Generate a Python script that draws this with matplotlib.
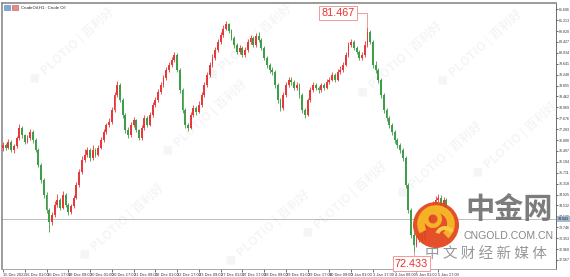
import numpy as np
import matplotlib

matplotlib.use("Agg")
import matplotlib.pyplot as plt
import matplotlib.transforms as mtransforms
from matplotlib.patches import Circle, Arc, Rectangle, Wedge

CJK = ["Noto Sans CJK SC", "DejaVu Sans"]

# --- data (CrudeOil, H1) ---
first_open = 76.60
closes = [
    76.71, 76.60, 76.82, 76.53, 76.67, 76.96, 77.32, 77.07, 76.82, 76.96, 77.18, 76.89,
    76.53, 75.99, 75.45, 74.91, 74.37, 73.93, 74.19, 74.55,
    74.73, 74.44, 74.91, 74.55, 74.30, 74.51, 74.80,
    75.27, 75.74, 76.17, 76.35, 76.53, 76.24, 76.53, 76.35, 76.60,
    76.89, 77.18, 77.43, 77.54, 77.97, 78.51, 78.87, 78.33, 77.79,
    77.25, 77.07, 77.43, 77.61, 77.25, 76.96, 77.32, 77.69, 77.43,
    77.79, 78.15, 78.33, 78.62, 78.87, 79.13, 79.42, 79.60,
    79.78, 79.96, 79.42, 78.69, 77.97, 77.43,
    77.32, 77.79, 78.05, 77.90, 78.15,
    78.51, 78.87, 79.24, 79.60, 79.85, 80.14, 80.43,
    80.68, 80.90, 81.06, 80.82, 80.57,
    80.32, 80.06, 80.21, 79.96, 80.14, 80.43, 80.57, 80.32,
    80.64, 80.50, 80.21, 79.85, 79.60, 79.42, 79.34,
    78.87, 78.33, 78.05, 78.51, 78.87,
    79.06, 78.98, 78.77, 78.87, 78.51,
    77.97, 77.79, 78.33, 78.69, 78.87,
    78.77, 78.69, 78.87, 78.77, 78.98,
    79.06, 79.24, 79.06, 79.34, 79.42, 79.60, 79.96,
    80.32, 80.43, 80.21, 80.06, 79.85,
    79.96, 80.32, 80.79, 80.43, 79.60,
    79.42, 79.06, 78.51, 77.97, 77.69,
    77.43, 77.18, 76.89, 76.71, 76.53, 76.24,
    75.27, 74.37, 73.47, 73.11, 73.29,
    73.47, 73.29, 73.65, 73.93, 74.30,
    74.55, 74.73, 74.80, 74.55, 74.73, 74.37, 74.04,
]
highs = [
    76.82, 76.80, 76.93, 76.88, 76.76, 77.05, 77.48, 77.40, 77.12, 77.08, 77.30, 77.24,
    76.95, 76.60, 76.05, 75.52, 75.00, 74.45, 74.30, 74.68,
    74.95, 74.80, 75.05, 74.98, 74.62, 74.60, 74.90,
    75.38, 75.85, 76.30, 76.55, 76.64, 76.60, 76.70, 76.62, 76.72,
    77.00, 77.28, 77.52, 77.70, 78.08, 78.62, 79.00, 78.95, 78.40,
    77.86, 77.35, 77.55, 77.72, 77.66, 77.30, 77.42, 77.80, 77.75,
    77.90, 78.25, 78.45, 78.72, 78.98, 79.25, 79.52, 79.72,
    79.90, 80.08, 80.02, 79.50, 78.75, 78.05,
    77.52, 77.90, 78.15, 78.12, 78.28,
    78.62, 78.98, 79.35, 79.72, 79.98, 80.25, 80.55,
    80.80, 81.02, 81.18, 81.12, 80.90,
    80.64, 80.40, 80.32, 80.28, 80.25, 80.52, 80.68, 80.64,
    80.76, 80.80, 80.56, 80.28, 79.92, 79.68, 79.52,
    79.40, 78.95, 78.40, 78.62, 78.98,
    79.18, 79.15, 79.05, 78.98, 78.94,
    78.58, 78.05, 78.42, 78.80, 78.98,
    78.95, 78.85, 78.96, 78.94, 79.08,
    79.16, 79.35, 79.30, 79.45, 79.55, 79.70, 80.08,
    80.42, 80.55, 80.50, 80.28, 80.12,
    80.06, 80.45, 80.97, 80.86, 80.50,
    79.75, 79.50, 79.12, 78.58, 78.05,
    77.76, 77.50, 77.25, 76.98, 76.80, 76.60,
    76.30, 75.35, 74.45, 73.58, 73.45,
    73.60, 73.55, 73.78, 74.05, 74.42,
    74.68, 74.88, 74.95, 74.90, 74.85, 74.80, 74.45,
]
lows = [
    76.50, 76.52, 76.55, 76.45, 76.44, 76.62, 76.90, 76.98, 76.74, 76.78, 76.90, 76.80,
    76.45, 75.90, 75.35, 74.80, 74.25, 73.57, 73.82, 74.10,
    74.48, 74.35, 74.40, 74.46, 74.20, 74.22, 74.45,
    74.75, 75.20, 75.68, 76.10, 76.28, 76.15, 76.18, 76.26, 76.30,
    76.55, 76.82, 77.10, 77.36, 77.48, 77.90, 78.45, 78.25, 77.70,
    77.15, 76.96, 77.00, 77.36, 77.18, 76.88, 76.90, 77.26, 77.35,
    77.38, 77.72, 78.08, 78.26, 78.55, 78.80, 79.05, 79.35,
    79.52, 79.70, 79.35, 78.60, 77.88, 77.32,
    77.22, 77.28, 77.72, 77.80, 77.85,
    78.08, 78.45, 78.80, 79.18, 79.52, 79.78, 80.08,
    80.36, 80.60, 80.84, 80.74, 80.48,
    80.22, 79.98, 80.00, 79.88, 79.90, 80.08, 80.36, 80.24,
    80.26, 80.42, 80.12, 79.76, 79.50, 79.32, 79.22,
    78.78, 78.22, 77.95, 77.98, 78.45,
    78.80, 78.88, 78.68, 78.70, 78.42,
    77.88, 77.68, 77.74, 78.26, 78.62,
    78.68, 78.60, 78.62, 78.70, 78.72,
    78.90, 79.00, 78.98, 79.00, 79.28, 79.36, 79.55,
    79.90, 80.25, 80.12, 79.98, 79.76,
    79.78, 79.90, 80.26, 80.35, 79.50,
    79.30, 78.96, 78.40, 77.88, 77.58,
    77.34, 77.08, 76.80, 76.60, 76.42, 76.12,
    75.15, 74.25, 73.35, 72.86, 73.02,
    73.20, 73.18, 73.22, 73.58, 73.86,
    74.22, 74.48, 74.66, 74.45, 74.48, 74.28, 73.95,
]
opens = [first_open] + closes[:-1]

ytick_labels = [
    "81.606", "81.213", "80.820", "80.427", "80.034", "79.641", "79.248", "78.855",
    "78.462", "78.069", "77.676", "77.283", "76.890", "76.497", "76.104", "75.711",
    "75.318", "74.925", "74.532", "74.139", "73.746", "73.353", "72.960", "72.567",
]
xtick_labels = [
    "15 Dec 2022", "16 Dec 01:00", "16 Dec 17:00", "19 Dec 09:00", "20 Dec 01:00",
    "20 Dec 17:00", "21 Dec 09:00", "22 Dec 01:00", "22 Dec 17:00", "23 Dec 09:00",
    "27 Dec 01:00", "27 Dec 17:00", "28 Dec 09:00", "29 Dec 01:00", "29 Dec 17:00",
    "30 Dec 09:00", "3 Jan 01:00", "3 Jan 17:00", "4 Jan 09:00", "5 Jan 01:00",
    "5 Jan 17:00",
]
label_step = 8
last_price = 74.04
last_label = "74.043"
high_label = 81.467
low_label = 72.433
high_bar = 134   # bar the 81.467 mark points at

UP = "#e8393a"
DOWN = "#3e9e4a"

W, H = 570, 277
fig = plt.figure(figsize=(W / 100, H / 100), dpi=100)
fig.patch.set_facecolor("white")

# plot frame: x 2..556, y 3..269 in pixels
ax = fig.add_axes([2 / W, (H - 269) / H, (556 - 2) / W, (269 - 3) / H])
ax.set_facecolor("white")

x = np.arange(len(closes))
o = np.array(opens)
c = np.array(closes)
hi = np.array(highs)
lo = np.array(lows)
col = np.where(c >= o, UP, DOWN)

ax.vlines(x, lo, hi, colors=col, linewidth=0.6, zorder=3)
body = np.maximum(np.abs(c - o), 0.02)
ax.bar(x, body, bottom=np.minimum(o, c), width=0.7, color=col, linewidth=0, zorder=4)

ax.axhline(last_price, color="#bdbdbd", linewidth=0.7, zorder=2)

ax.set_xlim(-0.37, 203.3)
ax.set_ylim(72.24, 81.83)

yt = [float(s) for s in ytick_labels]
ax.yaxis.tick_right()
ax.set_yticks(yt)
ax.set_yticklabels(ytick_labels)
ax.tick_params(axis="y", length=1.6, width=0.5, pad=0.5, labelsize=2.6,
               colors="#333333", labelfontfamily="Liberation Sans")

xt = np.arange(len(xtick_labels)) * label_step
ax.set_xticks(xt)
ax.set_xticklabels(xtick_labels, ha="left")
ax.tick_params(axis="x", length=2, width=0.5, pad=0.6, labelsize=2.9,
               colors="#333333", labelfontfamily="Liberation Sans")

for name in ["left", "top"]:
    ax.spines[name].set_color("#8a8a8a")
    ax.spines[name].set_linewidth(1.2)
ax.spines["bottom"].set_color("#9a9a9a")
ax.spines["bottom"].set_linewidth(0.6)
ax.spines["right"].set_color("#555555")
ax.spines["right"].set_linewidth(0.6)

# last price tag on the axis
trans = mtransforms.blended_transform_factory(ax.transAxes, ax.transData)
ax.text(1.003, last_price, last_label, transform=trans, fontsize=2.6, color="#1a1a1a",
        va="center", ha="left", family="Liberation Sans", clip_on=False,
        bbox=dict(boxstyle="square,pad=0.25", fc="#a8b9d3", ec="none"), zorder=6)

# high / low marks
i_lo = int(np.argmin(lo))
ax.plot([130.5, high_bar, high_bar], [high_label, high_label, hi[high_bar]],
        color="#f29a9a", linewidth=0.7, zorder=5, solid_joinstyle="miter")
ax.text(123.2, high_label, f"{high_label:.3f}", fontsize=7.8, color="#e8322d",
        ha="center", va="center", family="Liberation Sans", zorder=7,
        bbox=dict(boxstyle="square,pad=0.2", fc="white", ec="#f29a9a", lw=0.7))
ax.plot([i_lo, i_lo], [lo[i_lo], low_label], color="#f29a9a", linewidth=0.7, zorder=5)
ax.text(150.2, low_label, f"{low_label:.3f}", fontsize=7.8, color="#e8322d",
        ha="center", va="center", family="Liberation Sans", zorder=7, clip_on=False,
        bbox=dict(boxstyle="square,pad=0.2", fc="white", ec="#f29a9a", lw=0.7))

# overlay in pixel coordinates for header, watermarks and logo
ov = fig.add_axes([0, 0, 1, 1], zorder=10)
ov.set_xlim(0, W)
ov.set_ylim(H, 0)
ov.axis("off")
ov.patch.set_alpha(0)

ov.add_patch(Rectangle((4, 5), 6, 5, fc="#7fa7d6", ec="#5a7fb0", lw=0.4))
ov.add_patch(Rectangle((12, 5), 6, 5, fc="#e98a8a", ec="#b05a5a", lw=0.4))
ov.text(21, 7.8, "CrudeOil,H1 : Crude Oil", fontsize=3.1, color="#222222",
        va="center", ha="left", family="Liberation Sans")

for wx, wy in [(72, 46), (205, 118), (345, 200), (122, 222), (268, 228),
               (400, 60), (440, 160), (515, 140), (250, 42), (480, 48)]:
    ov.text(wx, wy, "◆ PLOTIO | 百利好", fontsize=9, color="#000000", alpha=0.045,
            rotation=42, ha="center", va="center", family=CJK, fontweight="bold")

# CNGOLD logo
ov.add_patch(Circle((436, 225), 23, fc="#e2461e", ec="none", alpha=0.95))
ov.add_patch(Arc((436, 224), 30, 30, theta1=150, theta2=410, lw=5.5, color="#f6b226"))
ov.add_patch(Wedge((433, 219), 9, 0, 360, width=4.5, fc="#f6b226", ec="none"))
ov.add_patch(Wedge((445, 236), 10, 200, 330, width=4, fc="#f9c94a", ec="none"))
ov.text(509, 209, "中金网", fontsize=21, color="#6e6e6e", fontweight="bold",
        ha="center", va="center", family=CJK, alpha=0.9)
ov.text(509, 236, "CNGOLD.COM.CN", fontsize=7.6, color="#7a7a7a",
        ha="center", va="center", family="Liberation Sans", alpha=0.9)
ov.text(486, 254, "中 文 财 经 新 媒 体", fontsize=10.5, color="#8c8c8c",
        ha="center", va="center", family=CJK, alpha=0.9)

plt.savefig("out.png", dpi=100, facecolor="white")
plt.close(fig)
